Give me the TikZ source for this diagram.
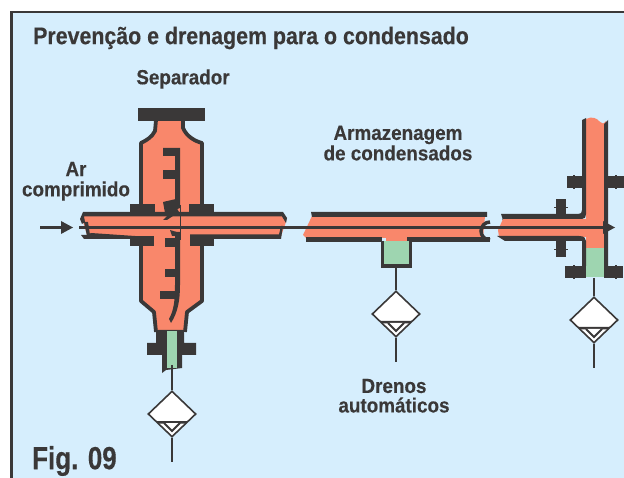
\documentclass[tikz,border=0pt]{standalone}
\usepackage{fontspec}
\setmainfont{Liberation Sans}
\newfontfamily\nar[FakeStretch=0.92,FakeBold=0.3]{Liberation Sans}
\newfontfamily\nart[FakeStretch=0.89,FakeBold=0.3]{Liberation Sans}
\newfontfamily\narf[FakeStretch=0.81,FakeBold=0.3]{Liberation Sans}
\usetikzlibrary{shapes.geometric,arrows.meta}
\definecolor{bgblue}{HTML}{D6EEFD}
\definecolor{salm}{HTML}{F9876B}
\definecolor{cond}{HTML}{9ED5B0}
\definecolor{ink}{HTML}{3A3838}
\tikzset{
 dk/.style={fill=ink,draw=none},
 wall/.style={draw=ink,line width=4.5pt,line join=round},
 pipefill/.style={fill=salm,draw=none},
 condfill/.style={fill=cond,draw=none},
 ln/.style={draw=ink,line width=2.6pt},
 drain/.style={shape=diamond,draw=ink,fill=white,line width=1.6pt,inner sep=0pt,minimum width=48pt,minimum height=46pt},
 lbl/.style={text=ink,font=\nar\bfseries\fontsize{20.5}{20.5}\selectfont,inner sep=0pt},
}
\newcommand{\draininner}[1]{%
 \fill[ink] ([shift={(-16,7)}]#1.center) -- ([shift={(16,7)}]#1.center) -- ([shift={(14,9.5)}]#1.center) -- ([shift={(-14,9.5)}]#1.center) -- cycle;
 \draw[ink,line width=1.8pt,fill=white] ([shift={(-8,9)}]#1.center) -- ([shift={(0,17)}]#1.center) -- ([shift={(8,9)}]#1.center);
}
\begin{document}
\begin{tikzpicture}[x=1pt,y=-1pt]
\useasboundingbox (0,0) rectangle (624,478);
\clip (0,0) rectangle (624,478);
\fill[white] (0,0) rectangle (624,478);
\fill[bgblue] (11,12) rectangle (624,478);
\fill[ink] (10,11) rectangle (624,13.5);
\fill[ink] (10,11) rectangle (13,478);

% ---- Separator ----
% pipe
\fill[pipefill] (84,216) -- (283,216) -- (286,222) -- (281,236) -- (88,238) -- (83,222) -- cycle;
% body
\path[pipefill] (156,120) -- (155,131) .. controls (152,137) and (147,140) .. (141,143) -- (141,300) -- (155,313) -- (156,332) -- (184,332) -- (185,313) -- (202,300) -- (202,143) .. controls (195,141) and (187,137) .. (183,128) -- (183,120) -- cycle;
\draw[wall,line width=3.8pt] (156,120) -- (155,131) .. controls (152,137) and (147,140) .. (141,143) -- (141,205);
\draw[wall,line width=3.8pt] (183,120) -- (183,128) .. controls (187,137) and (195,141) .. (202,143) -- (202,205);
\draw[wall,line width=3.8pt] (141,238) -- (141,301) -- (154,312) -- (156,332);
\draw[wall,line width=3.8pt] (202,238) -- (202,301) -- (187,312) -- (185,332);
\fill[dk] (138,108) rectangle (205,121);
% pipe walls
\fill[dk] (83,212) -- (283,212) -- (287,218) -- (286,223) -- (282,216.5) -- (84,216.5) -- (85,222) -- (82,224) -- (80,219) -- cycle;
\fill[dk] (81,235) -- (88,235) -- (91,233) -- (135,236) -- (135,239) -- (84,239) -- cycle;
\fill[dk] (88,222) -- (90,235) -- (87,236) -- (84,222) -- cycle;
\fill[dk] (190,234.5) -- (279,234.5) -- (281,226) -- (283,226) -- (281,239) -- (190,239) -- cycle;
% flanges
\fill[dk] (130,204) rectangle (155,216.5);
\fill[dk] (189,204) rectangle (214,216.5);
\fill[dk] (130,236) rectangle (154,246.5);
\fill[dk] (190,236) rectangle (214,246.5);
% baffle rod
\fill[dk] (163,148) -- (180,148) -- (180,208) -- (175,210) -- (175,156) -- (163,156) -- cycle;
\fill[dk] (163,170) rectangle (176,179);
\fill[dk] (163,202) -- (176,199) -- (176,207) -- (179,212) -- (167,220) -- (163,220) -- (169,214) -- (165,213) -- cycle;
\draw[ink,line width=1pt] (180,205) -- (180,240);
\fill[dk] (170,230) -- (180,233) -- (180,236) -- (172,236) -- cycle;
\fill[dk] (175,232) -- (180,232) -- (180,285) .. controls (180,300) and (178,312) .. (171,323) -- (169,319) .. controls (174,310) and (175,300) .. (175,285) -- cycle;
\fill[dk] (165,238) rectangle (176,247);
\fill[dk] (165,269) rectangle (176,277);
\fill[dk] (160,291) rectangle (176,299);
% collar
\fill[dk] (156,330) -- (184,330) -- (184,343) -- (196,343) -- (196,355) -- (182,355) -- (182,368) -- (166,370) -- (162,373) -- (162,355) -- (147,355) -- (147,343) -- (156,343) -- cycle;
\fill[condfill] (167,331) rectangle (177,368);

% ---- Middle pipe ----
\fill[pipefill] (312,216) -- (485,216) -- (483,238) -- (306,238) -- (303,235) -- cycle;
\fill[dk] (311,212) -- (487,212) -- (487,217) -- (312,217) -- cycle;
\fill[dk] (306,237) -- (382,237) -- (382,242) -- (306,242) -- cycle;
\fill[dk] (407,237) -- (490,237) -- (490,242) -- (407,242) -- cycle;
\fill[pipefill] (386,236) rectangle (407,242);
\draw[ink,line width=3.5pt] (490,222) arc (270:90:9);
\fill[condfill] (384,241) rectangle (409,265);
\draw[ink,line width=3.6pt] (382.5,241) -- (382.5,266) -- (410.5,266) -- (410.5,241);

% ---- Right T pipe ----
\fill[pipefill] (586,119) .. controls (592,116) and (597,118) .. (600,122) .. controls (602,124) and (604,124) .. (606,121) -- (606,248) -- (586,248) -- (586,237) -- (499,237) -- (498,230) -- (503,219) -- (586,219) -- cycle;
\fill[condfill] (586,248) rectangle (604,277);
\fill[dk] (582,120) -- (586,118) -- (586,214) .. controls (586,217) and (585,219) .. (582,219) -- (502,219) -- (503,220) -- (501,214) -- (578,214) .. controls (581,214) and (582,213) .. (582,210) -- cycle;
\fill[dk] (604,124) -- (608,120) -- (608,270) -- (604,270) -- cycle;
\fill[dk] (497,236) -- (579,236) .. controls (584,236) and (586,238) .. (586,241) -- (586,266) -- (582,266) -- (582,241) -- (505,241) -- cycle;
% flanges
\fill[dk] (567,176) rectangle (586,188);
\fill[dk] (604,176) rectangle (624,188);
\fill[dk] (565,266) rectangle (586,278);
\fill[dk] (604,266) rectangle (623,278);
\fill[dk] (572.5,175) rectangle (574.5,189.5);
\fill[dk] (615,175) rectangle (617,189.5);
\fill[dk] (572.5,265) rectangle (574.5,279.5);
\fill[dk] (615,265) rectangle (617,279.5);
% bolts
\fill[dk] (556,199) rectangle (566,215);
\fill[dk] (554,207) rectangle (568,208.5);
\fill[dk] (556,241) rectangle (566,257);
\fill[dk] (554,249) rectangle (568,250.5);

% ---- centre line and arrows ----
\coordinate (inA) at (40,227.5);
\coordinate (inB) at (62,227.5);
\coordinate (mainA) at (79,227.5);
\coordinate (mainB) at (604,227.5);
\draw[ln] (inA) -- (inB);
\fill[ink] (61,221) -- (73,227.5) -- (61,234) -- cycle;
\draw[ln] (mainA) -- (mainB);
\fill[ink] (603,221) -- (615,227.5) -- (603,234) -- cycle;

% ---- Drains ----
\node[drain] (d1) at (172,414) {};
\node[drain] (d2) at (396,314) {};
\node[drain] (d3) at (594,320) {};
\draininner{d1}\draininner{d2}\draininner{d3}
\coordinate (s1) at (172,365);
\coordinate (s2) at (396,266);
\coordinate (s3) at (594,278);
\coordinate (e1) at (172,462);
\coordinate (e2) at (396,362);
\coordinate (e3) at (594,368);
\draw[ln] (s1) -- (d1.north); \draw[ln] (d1.south) -- (e1);
\draw[ln] (s2) -- (d2.north); \draw[ln] (d2.south) -- (e2);
\draw[ln] (s3) -- (d3.north); \draw[ln] (d3.south) -- (e3);

% ---- Text ----
\node[lbl,anchor=west,font=\nart\bfseries\fontsize{24}{24}\selectfont] (title) at (33,38) {Prevenção e drenagem para o condensado};
\node[lbl] (sep) at (183,79) {Separador};
\node[lbl] (ar1) at (76,169) {Ar};
\node[lbl] (ar2) at (76,191) {comprimido};
\node[lbl] (mz1) at (398,135) {Armazenagem};
\node[lbl] (mz2) at (398,153) {de condensados};
\node[lbl] (dr1) at (394,386) {Drenos};
\node[lbl] (dr2) at (394,405) {automáticos};
\node[lbl,anchor=west,font=\narf\bfseries\fontsize{32}{32}\selectfont] (fig) at (32,461) {Fig. 09};
\end{tikzpicture}
\end{document}
